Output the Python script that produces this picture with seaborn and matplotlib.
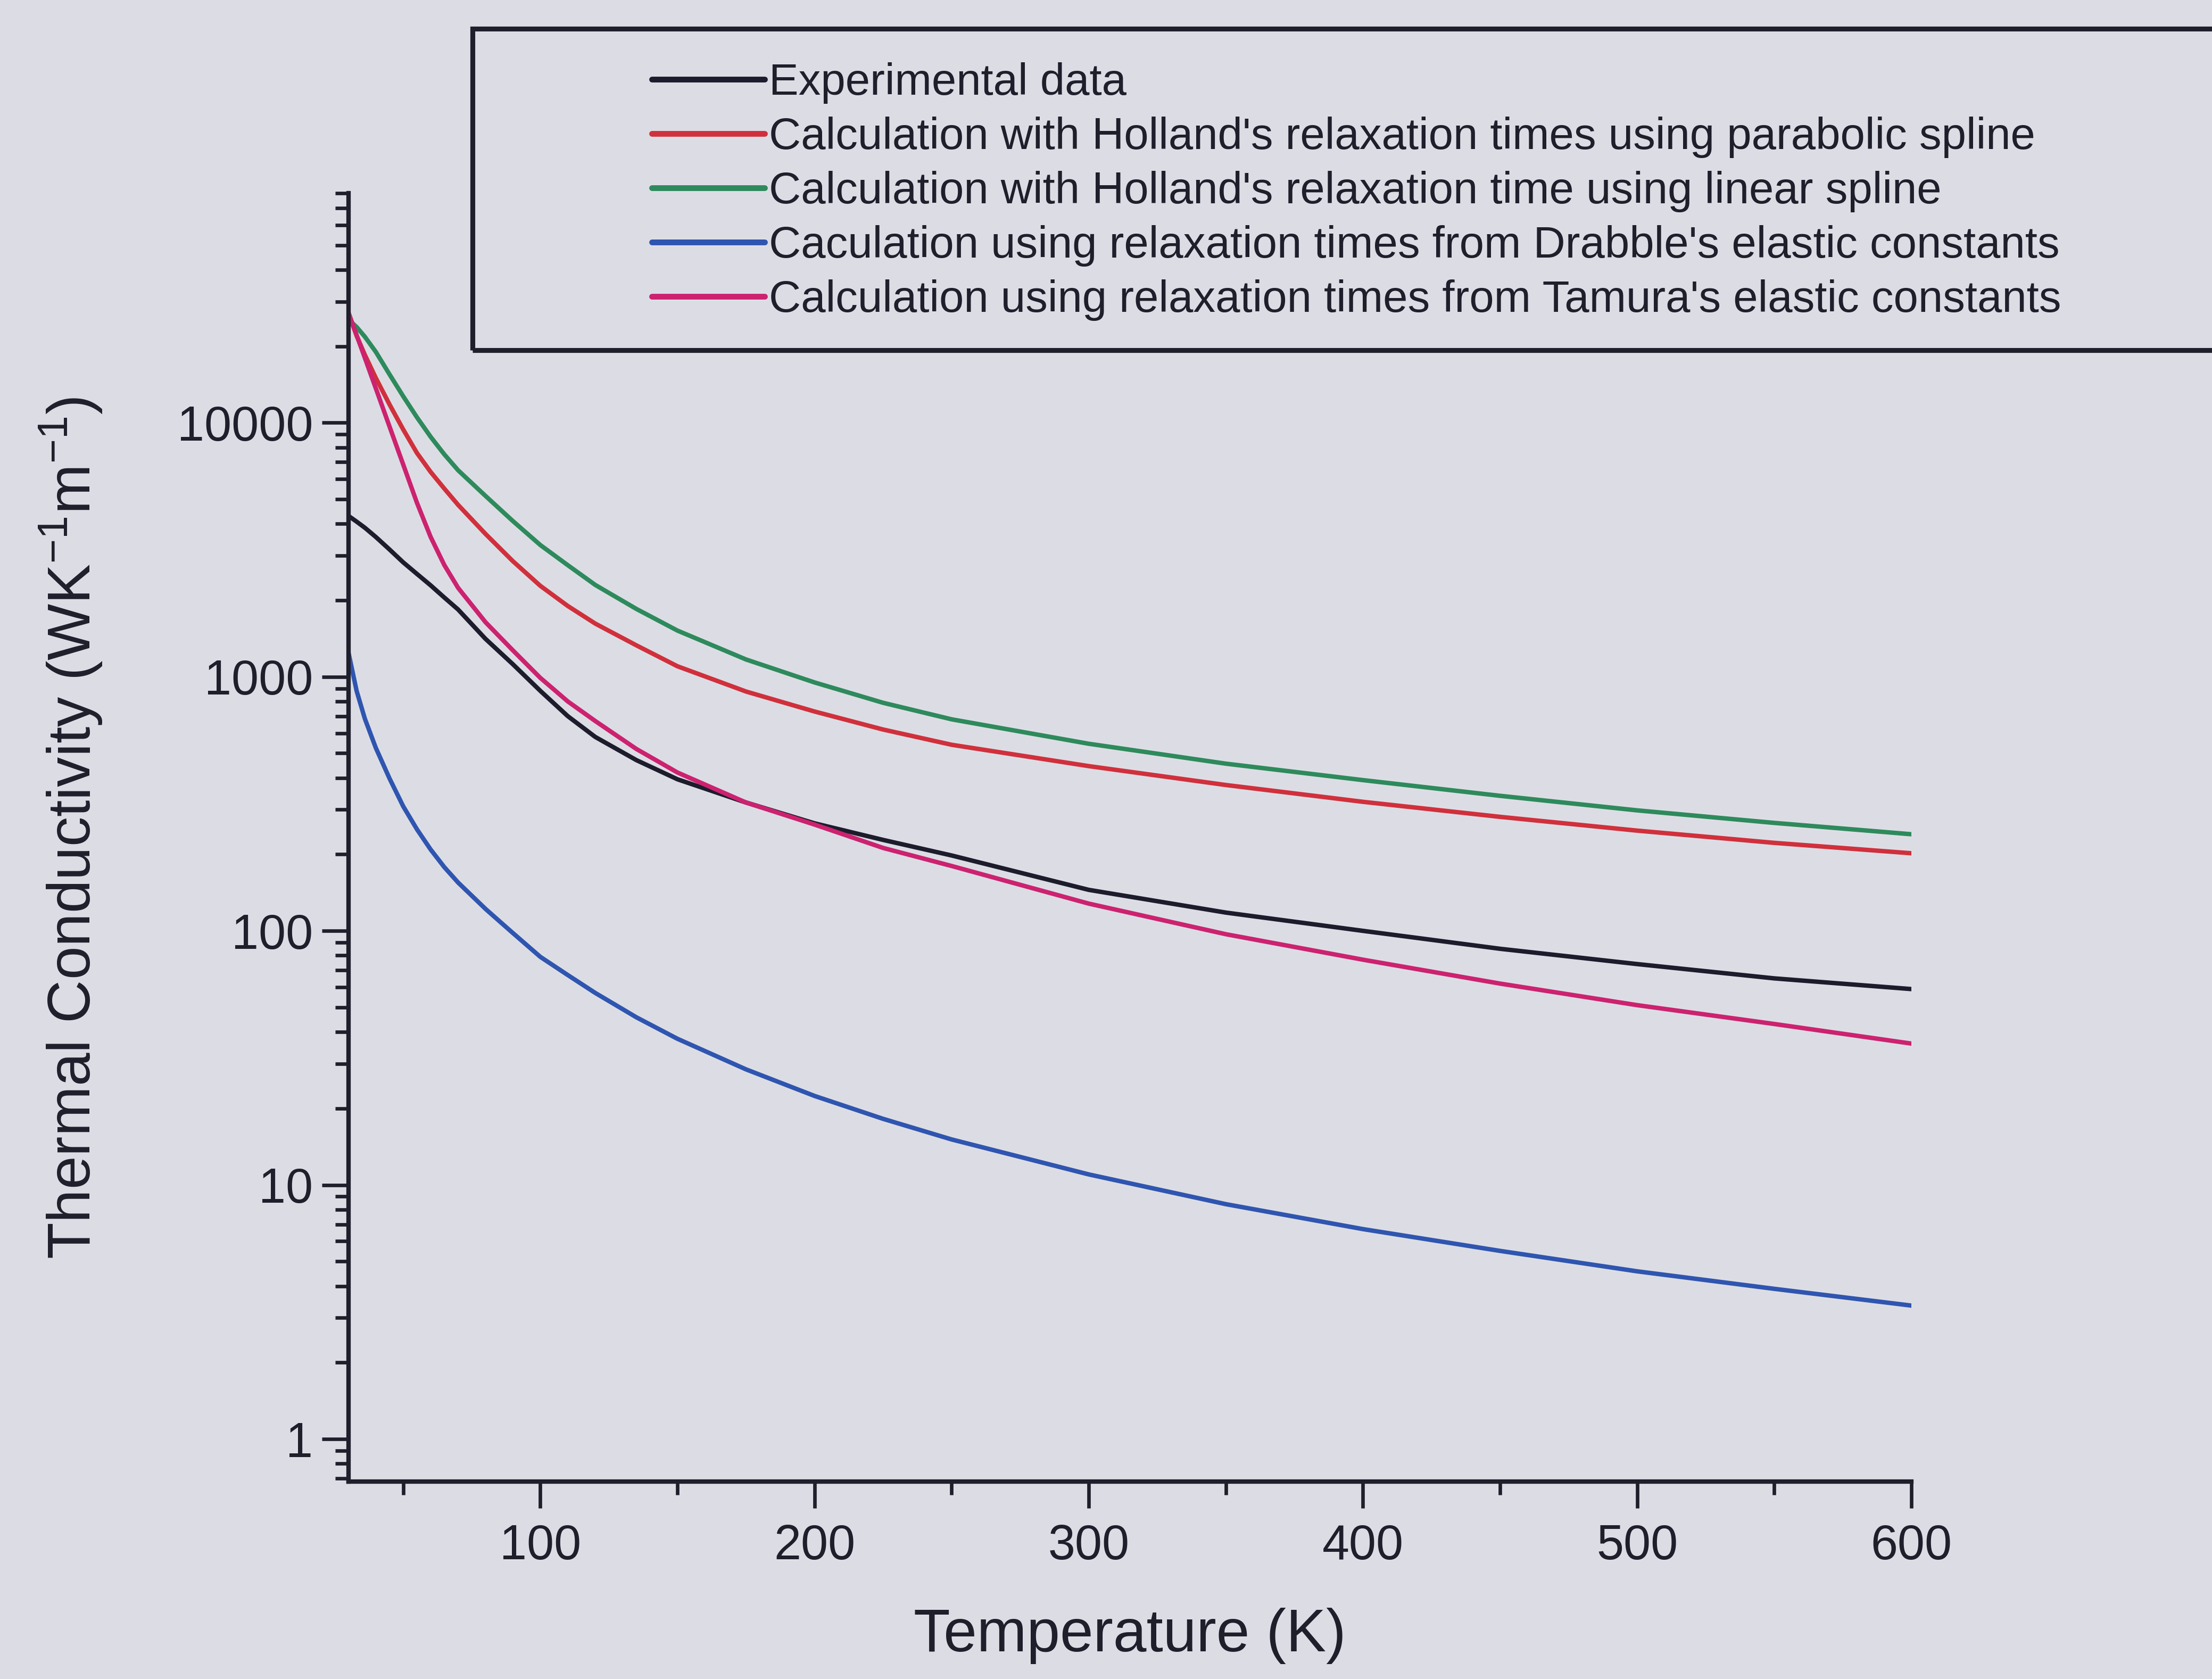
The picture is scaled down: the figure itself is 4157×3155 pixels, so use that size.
import numpy as np
import pandas as pd
import matplotlib
matplotlib.use("Agg")
import matplotlib.pyplot as plt
from matplotlib.patches import Rectangle
from matplotlib.ticker import LogLocator, NullFormatter, FuncFormatter, MultipleLocator
import seaborn as sns

# ---------------- data ----------------
temperature = [30, 33, 36, 40, 45, 50, 55, 60, 65, 70, 80, 90, 100, 110, 120, 135,
               150, 175, 200, 225, 250, 300, 350, 400, 450, 500, 550, 600]

experimental = [4300, 4080, 3860, 3550, 3170, 2820, 2540, 2290, 2050, 1840, 1410, 1120,
                880, 700, 580, 470, 395, 320, 265, 228, 198, 145, 118, 100, 85, 74, 65, 59]
holland_parabolic = [27000, 22000, 18500, 15000, 11800, 9400, 7600, 6400, 5500, 4750,
                     3650, 2850, 2280, 1900, 1620, 1330, 1100, 875, 730, 620, 540, 445,
                     375, 322, 281, 248, 222, 202]
holland_linear = [25500, 23800, 21800, 19000, 15500, 12700, 10500, 8800, 7500, 6500,
                  5150, 4100, 3300, 2750, 2300, 1850, 1520, 1170, 950, 790, 680, 545,
                  455, 392, 340, 298, 266, 240]
drabble = [1250, 880, 684, 525, 398, 309, 251, 209, 178, 155, 122, 98, 79, 67, 57,
           45.7, 37.6, 28.5, 22.4, 18.2, 15.1, 11.0, 8.4, 6.7, 5.5, 4.57, 3.9, 3.35]
tamura = [27200, 22100, 18000, 13650, 9660, 6840, 4840, 3550, 2750, 2240, 1640, 1270,
          990, 800, 670, 520, 420, 320, 262, 212, 180, 128, 97, 77, 62, 51, 43, 36]

labels = [
    "Experimental data",
    "Calculation with Holland's relaxation times using parabolic spline",
    "Calculation with Holland's relaxation time using linear spline",
    "Caculation using relaxation times from Drabble's elastic constants",
    "Calculation using relaxation times from Tamura's elastic constants",
]
series = [experimental, holland_parabolic, holland_linear, drabble, tamura]
colors = ["#1c1c2c", "#d0303c", "#2e8a5c", "#2f55b0", "#cc2270"]

x_ticks = [100, 200, 300, 400, 500, 600]
y_ticks = [1, 10, 100, 1000, 10000]

df = pd.concat(
    [pd.DataFrame({"T": temperature, "k": vals, "series": lab})
     for lab, vals in zip(labels, series)],
    ignore_index=True,
)

# ---------------- style ----------------
sns.set_style("ticks")
bg = "#dcdde4"
ink = "#1f1f2c"
plt.rcParams["font.family"] = ["Liberation Sans", "DejaVu Sans"]
plt.rcParams["mathtext.fontset"] = "custom"
plt.rcParams["mathtext.rm"] = "Liberation Sans"
plt.rcParams["mathtext.it"] = "Liberation Sans"
plt.rcParams["mathtext.default"] = "regular"

fig = plt.figure(figsize=(4157 / 300, 3155 / 300), dpi=300, facecolor=bg)
ax = fig.add_axes([0.1575, 0.1176, 0.7066, 0.7673])
ax.set_facecolor(bg)

sns.lineplot(data=df, x="T", y="k", hue="series", hue_order=labels,
             palette=dict(zip(labels, colors)), estimator=None, sort=False,
             linewidth=2.0, ax=ax, legend=True)

handles, labs = ax.get_legend_handles_labels()
ax.get_legend().remove()

ax.set_yscale("log")
ax.set_xlim(30, 600)
ax.set_ylim(0.68, 80000)

ax.set_xticks(x_ticks)
ax.xaxis.set_minor_locator(MultipleLocator(50))
ax.set_yticks(y_ticks)
ax.yaxis.set_major_formatter(FuncFormatter(lambda v, p: f"{v:g}"))
ax.yaxis.set_minor_locator(LogLocator(base=10, subs=np.arange(2, 10)))
ax.yaxis.set_minor_formatter(NullFormatter())

for s in ["top", "right"]:
    ax.spines[s].set_visible(False)
for s in ["left", "bottom"]:
    ax.spines[s].set_linewidth(2.0)
    ax.spines[s].set_color(ink)

ax.tick_params(axis="both", which="major", direction="out", length=12,
               width=1.6, color=ink, labelsize=22, labelcolor=ink)
ax.tick_params(axis="both", which="minor", direction="out", length=6,
               width=1.6, color=ink)
ax.tick_params(axis="x", which="major", pad=7)
ax.tick_params(axis="y", which="major", pad=4)

ax.set_xlabel("Temperature (K)", fontsize=27, color=ink)
ax.xaxis.set_label_coords(0.5, -0.098)
ax.set_ylabel("")
fig.text(0.032, 0.507, r"Thermal Conductivity (WK$^{-1}$m$^{-1}$)",
         rotation=90, ha="center", va="center", fontsize=27, color=ink)

# legend (frame drawn as a figure rectangle, like the reference box)
fig.add_artist(Rectangle((0.2136, 0.7916), 0.85, 0.1914, transform=fig.transFigure,
                         fill=False, linewidth=2.2, edgecolor=ink))
leg = fig.legend(handles, labs, loc="upper left", bbox_to_anchor=(0.2946, 0.963),
                 frameon=False, fontsize=20, handlelength=2.55, handletextpad=0.1,
                 labelspacing=0.29, borderpad=0, borderaxespad=0)
for line in leg.get_lines():
    line.set_linewidth(2.6)
for t in leg.get_texts():
    t.set_color(ink)

fig.savefig("out.png", dpi=300, facecolor=bg)
